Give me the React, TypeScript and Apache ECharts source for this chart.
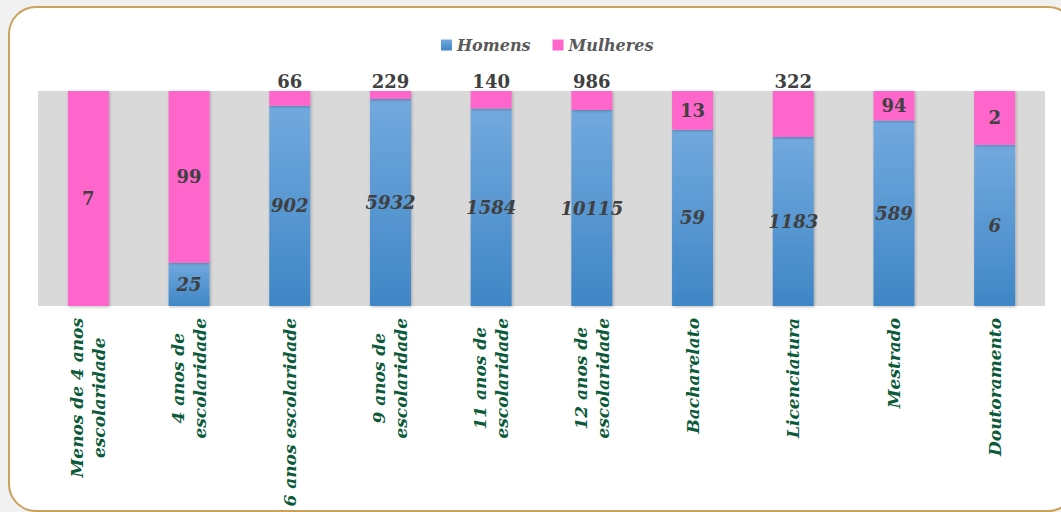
import React, { useEffect, useRef } from "react";
import * as echarts from "echarts";

const categories = [
  "Menos de 4 anos\nescolaridade",
  "4 anos de\nescolaridade",
  "6 anos escolaridade",
  "9 anos de\nescolaridade",
  "11 anos de\nescolaridade",
  "12 anos de\nescolaridade",
  "Bacharelato",
  "Licenciatura",
  "Mestrado",
  "Doutoramento",
];
const homens = [0, 25, 902, 5932, 1584, 10115, 59, 1183, 589, 6];
const mulheres = [7, 99, 66, 229, 140, 986, 13, 322, 94, 2];
const seriesNames = ["Homens", "Mulheres"];

// categories whose women label sits above the bar
const womenLabelAbove = new Set([2, 3, 4, 5, 7]);

const SERIF = "'DejaVu Serif', serif";

export default function App() {
  const ref = useRef<HTMLDivElement>(null);
  useEffect(() => {
    if (!ref.current) return;
    const chart = echarts.init(ref.current, undefined, { renderer: "svg" });
    const totals = homens.map((h, i) => h + mulheres[i]);
    const hPct = homens.map((h, i) => (h / totals[i]) * 100);
    const mPct = mulheres.map((m, i) => (m / totals[i]) * 100);

    const labelBase = {
      show: true,
      fontFamily: SERIF,
      fontWeight: "bold",
      fontSize: 18,
      color: "#404040",
    };

    chart.setOption({
      animation: false,
      legend: {
        top: 32,
        left: 436,
        itemWidth: 11,
        itemHeight: 11,
        itemGap: 22,
        icon: "rect",
        textStyle: {
          fontFamily: SERIF,
          fontStyle: "italic",
          fontWeight: "bold",
          fontSize: 16,
          color: "#595959",
        },
        data: seriesNames,
      },
      grid: {
        left: 38,
        right: 16,
        top: 91,
        bottom: 206,
        show: true,
        backgroundColor: "#d9d9d9",
        borderWidth: 0,
      },
      xAxis: {
        type: "category",
        data: categories,
        axisLine: { show: false },
        axisTick: { show: false },
        axisLabel: {
          interval: 0,
          rotate: 90,
          margin: 12,
          formatter: (v: string) =>
            v
              .split("\n")
              .map((l) => `{c|${l}}`)
              .join("\n"),
          rich: {
            c: {
              align: "center",
              fontFamily: SERIF,
              fontStyle: "italic",
              fontWeight: "bold",
              fontSize: 17,
              lineHeight: 22,
              color: "#0b5a3a",
            },
          },
        },
      },
      yAxis: {
        type: "value",
        min: 0,
        max: 100,
        show: false,
        splitLine: { show: false },
      },
      series: [
        {
          name: seriesNames[0],
          type: "bar",
          stack: "total",
          barWidth: 41,
          data: hPct,
          itemStyle: {
            color: new echarts.graphic.LinearGradient(0, 0, 0, 1, [
              { offset: 0, color: "#72a9de" },
              { offset: 1, color: "#3f86c6" },
            ]),
            shadowColor: "rgba(0,0,0,0.25)",
            shadowBlur: 3,
            shadowOffsetX: 1,
            shadowOffsetY: 1,
          },
          label: {
            ...labelBase,
            fontStyle: "italic",
            position: "inside",
            formatter: (p: any) => (homens[p.dataIndex] ? String(homens[p.dataIndex]) : ""),
          },
        },
        {
          name: seriesNames[1],
          type: "bar",
          stack: "total",
          barWidth: 41,
          data: mPct.map((v, i) =>
            womenLabelAbove.has(i) ? { value: v, label: { position: "top", distance: 1 } } : v
          ),
          itemStyle: {
            color: "#ff66cc",
            shadowColor: "rgba(0,0,0,0.25)",
            shadowBlur: 3,
            shadowOffsetX: 1,
            shadowOffsetY: 1,
          },
          label: {
            ...labelBase,
            position: "inside",
            formatter: (p: any) => String(mulheres[p.dataIndex]),
          },
        },
      ],
    });
    return () => chart.dispose();
  }, []);

  return (
    <div
      style={{
        position: "fixed",
        left: 0,
        top: 0,
        width: 1061,
        height: 512,
        background: "#f1f1f1",
        overflow: "hidden",
      }}
    >
      <div
        style={{
          position: "absolute",
          left: 8,
          top: 6,
          width: 1064,
          height: 502,
          border: "2px solid #c9a25c",
          borderRadius: 28,
          background: "#ffffff",
        }}
      />
      <div
        ref={ref}
        style={{ position: "absolute", left: 0, top: 0, width: 1061, height: 512 }}
      />
    </div>
  );
}
